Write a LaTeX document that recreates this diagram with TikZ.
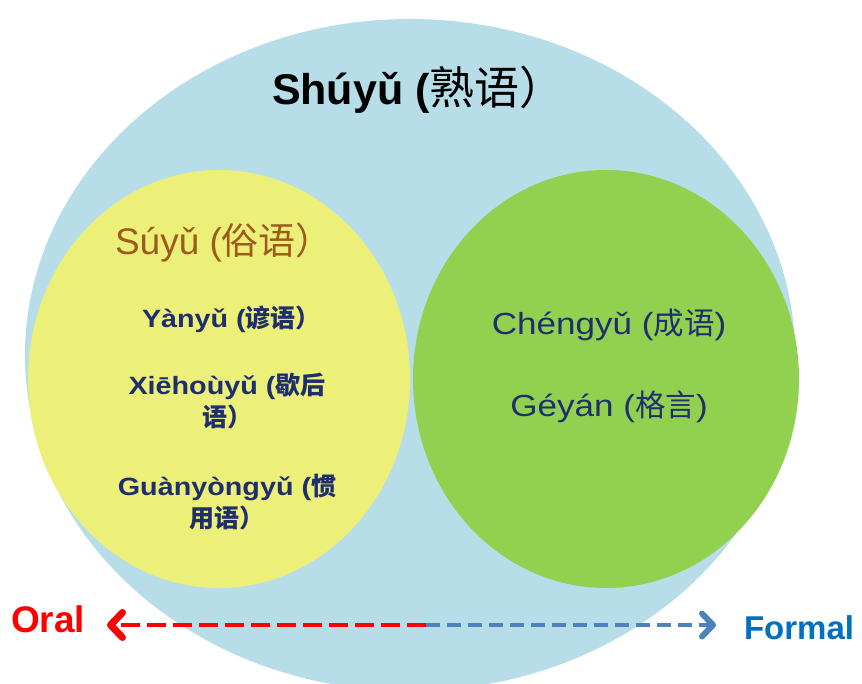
\documentclass[tikz,border=0pt]{standalone}
\usepackage{fontspec}
\setmainfont{Liberation Sans}
\newfontfamily\cjk{Noto Sans CJK SC}
\newfontfamily\widesf[FakeStretch=1.15]{Liberation Sans}
\usetikzlibrary{arrows.meta}
\definecolor{bgblue}{HTML}{B7DDE8}
\definecolor{ylw}{HTML}{EDF078}
\definecolor{grn}{HTML}{92D050}
\definecolor{navy}{HTML}{1F2F6E}
\definecolor{brownish}{HTML}{9C5A1C}
\definecolor{arrowblue}{HTML}{4F81BD}
\definecolor{formalblue}{HTML}{0070C0}
\tikzset{
  txt/.style={inner sep=0pt, outer sep=0pt},
  leftitem/.style={txt, text=navy, align=center, font=\widesf\bfseries\fontsize{25}{32}\selectfont},
  rightitem/.style={txt, text=navy, font=\widesf\fontsize{30.5}{34}\selectfont},
  oraldash/.style={red, line width=4.5pt, dash pattern=on 19pt off 7pt, -{Straight Barb[length=12pt,width=25pt,line width=7pt,round]}},
  formaldash/.style={arrowblue, line width=3.5pt, dash pattern=on 14pt off 7pt, -{Straight Barb[length=11pt,width=23pt,line width=6pt,round]}}
}
\begin{document}
\begin{tikzpicture}[x=1pt,y=-1pt]
\useasboundingbox (0,0) rectangle (862,684);
\begin{scope}
\clip (0,0) rectangle (862,684);
\fill[bgblue] (410,355) ellipse [x radius=385pt, y radius=336pt];
\end{scope}
\fill[ylw] (219,379) ellipse [x radius=191pt, y radius=209pt];
\fill[grn] (606,379) ellipse [x radius=193pt, y radius=209pt];

\node[txt, anchor=base west, font=\bfseries\fontsize{43}{48}\selectfont] (title) at (272,105) {Shúyǔ (\cjk\mdseries\fontsize{45}{48}\selectfont 熟语）};

\node[txt, anchor=base west, text=brownish, font=\fontsize{37}{42}\selectfont] (suyu) at (115,255) {Súyǔ ({\cjk 俗语）}};

\node[leftitem, anchor=base west] (yanyu) at (142,328) {Yànyǔ ({\cjk 谚语）}};
\node[leftitem, anchor=center] (xiehouyu) at (227,401) {Xiēhoùyǔ ({\cjk 歇后}\\{\cjk 语）}};
\node[leftitem, anchor=center] (guanyongyu) at (227,502) {Guànyòngyǔ ({\cjk 惯}\\{\cjk 用语）}};

\node[rightitem, anchor=base] (chengyu) at (609,335) {Chéngyǔ ({\cjk 成语})};
\node[rightitem, anchor=base] (geyan) at (609,417) {Géyán ({\cjk 格言})};

\coordinate (mid) at (426,625);
\coordinate (lefttip) at (107,625);
\coordinate (righttip) at (716,625);
\draw[oraldash] (mid) -- (lefttip);
\draw[formaldash] (mid) -- (righttip);

\node[txt, anchor=west, text=red, font=\bfseries\fontsize{37}{40}\selectfont] (oral) at (11,619) {Oral};
\node[txt, anchor=west, text=formalblue, font=\bfseries\fontsize{33}{36}\selectfont] (formal) at (744,628) {Formal};
\end{tikzpicture}
\end{document}
